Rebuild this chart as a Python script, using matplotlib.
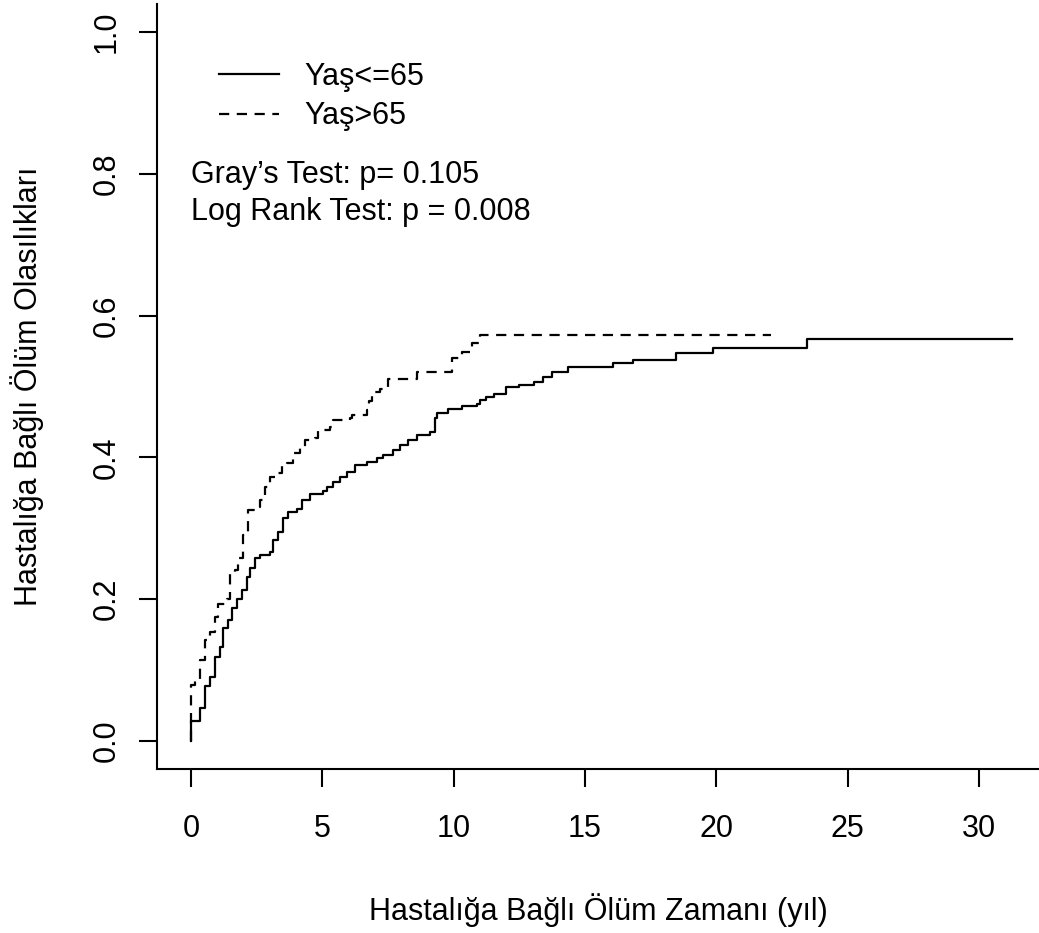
import numpy as np
import matplotlib.pyplot as plt

plt.rcParams['font.family'] = ['Liberation Sans', 'DejaVu Sans']

# cumulative incidence, Yaş<=65 (step times and values after each step)
t_young = [0, 0.0, 0.34, 0.53, 0.72, 0.91, 1.10, 1.23, 1.42, 1.55, 1.74, 1.93,
           2.12, 2.25, 2.44, 2.63, 3.00, 3.13, 3.32, 3.51, 3.70, 4.02, 4.21, 4.53,
           5.04, 5.17, 5.42, 5.67, 5.93, 6.24, 6.69, 7.07, 7.32, 7.70, 7.96, 8.27,
           8.59, 9.10, 9.29, 9.35, 9.79, 10.30, 10.87, 11.00, 11.23, 11.53, 11.99,
           12.50, 13.07, 13.39, 13.73, 14.36, 16.05, 16.81, 18.46, 19.86, 23.44, 31.24]
ci_young = [0, 0.028, 0.046, 0.077, 0.091, 0.119, 0.133, 0.159, 0.171, 0.187, 0.201, 0.213,
            0.232, 0.244, 0.258, 0.262, 0.267, 0.283, 0.295, 0.314, 0.323, 0.328, 0.340, 0.349,
            0.352, 0.359, 0.366, 0.373, 0.380, 0.389, 0.394, 0.399, 0.403, 0.410, 0.417, 0.424,
            0.432, 0.436, 0.455, 0.462, 0.469, 0.473, 0.476, 0.481, 0.485, 0.490, 0.499,
            0.502, 0.506, 0.513, 0.521, 0.527, 0.533, 0.538, 0.547, 0.555, 0.567, 0.567]

# cumulative incidence, Yaş>65
t_old = [0, 0.0, 0.15, 0.34, 0.53, 0.72, 0.91, 1.04, 1.36, 1.48, 1.67, 1.80, 1.99, 2.18,
         2.44, 2.63, 2.82, 3.00, 3.32, 3.45, 3.64, 3.89, 4.15, 4.34, 4.72, 4.85, 5.29,
         5.42, 6.05, 6.12, 6.69, 6.78, 6.88, 7.19, 7.51, 8.59, 9.92, 10.30, 10.68, 11.00, 22.07]
ci_old = [0, 0.079, 0.086, 0.114, 0.142, 0.154, 0.175, 0.194, 0.201, 0.239, 0.241, 0.258, 0.291, 0.326,
          0.330, 0.340, 0.359, 0.373, 0.378, 0.389, 0.392, 0.406, 0.415, 0.425, 0.427, 0.439, 0.443,
          0.453, 0.455, 0.460, 0.467, 0.480, 0.493, 0.497, 0.511, 0.521, 0.540, 0.549, 0.561, 0.573, 0.573]

group_labels = ['Yaş<=65', 'Yaş>65']
test_labels = ["Gray’s Test: p= 0.105", "Log Rank Test: p = 0.008"]
x_ticks = [0, 5, 10, 15, 20, 25, 30]
y_ticks = [0.0, 0.2, 0.4, 0.6, 0.8, 1.0]

fs = 22
fig = plt.figure(figsize=(10.39, 9.33), dpi=100)
ax = fig.add_axes([0.1511, 0.1753, 0.8489, 0.8208])

dash = (0, (4.6, 3.4))
ax.step(t_young, ci_young, where='post', color='black', lw=1.6, label=group_labels[0])
ax.step(t_old, ci_old, where='post', color='black', lw=1.6, linestyle=dash, label=group_labels[1])

ax.set_xlim(-1.294, 32.28)
ax.set_ylim(-0.04, 1.04)

# L-shaped box like R bty="l"
for s in ['top', 'right']:
    ax.spines[s].set_visible(False)
for s in ['left', 'bottom']:
    ax.spines[s].set_linewidth(1.5)

ax.set_xticks(x_ticks)
ax.set_xticklabels([str(v) for v in x_ticks])
ax.set_yticks(y_ticks)
ax.set_yticklabels(['%.1f' % v for v in y_ticks])
ax.tick_params(axis='x', length=13, width=1.5, pad=19, labelsize=fs)
ax.tick_params(axis='y', length=13, width=1.5, pad=12.5, labelsize=fs)
for lbl in ax.get_yticklabels():
    lbl.set_rotation(90)
    lbl.set_va('center')
    lbl.set_ha('right')

ax.set_xlabel('Hastalığa Bağlı Ölüm Zamanı (yıl)', fontsize=fs)
ax.xaxis.set_label_coords(0.5, -0.162)
ax.set_ylabel('Hastalığa Bağlı Ölüm Olasılıkları', fontsize=fs)
ax.yaxis.set_label_coords(-0.128, 0.5)

ax.legend(loc='upper left', bbox_to_anchor=(0.0703, 0.9237), frameon=False,
          fontsize=fs, handlelength=1.96, handletextpad=0.82, labelspacing=0.3,
          borderpad=0, borderaxespad=0)

ax.text(0, 0.787, test_labels[0], fontsize=fs, ha='left', va='baseline')
ax.text(0, 0.735, test_labels[1], fontsize=fs, ha='left', va='baseline')

fig.savefig('out.png', dpi=100)
